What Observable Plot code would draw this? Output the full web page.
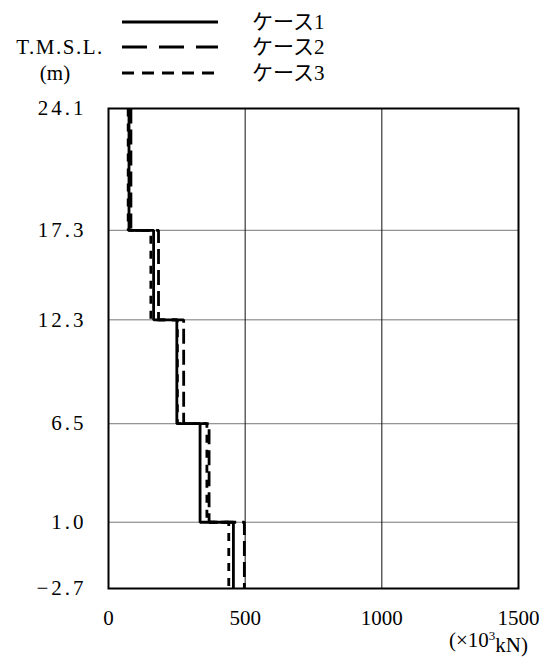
<!DOCTYPE html>
<html><head><meta charset="utf-8">
<script src="https://cdn.jsdelivr.net/npm/d3@7"></script>
<script src="https://cdn.jsdelivr.net/npm/@observablehq/plot@0.6"></script>
<style>
html,body{margin:0;padding:0;background:#fff;}
#chart{position:relative;width:547px;height:657px;}
</style>
</head><body><div id="chart"></div>
<script>
// Layer boundaries (T.M.S.L., m), top to bottom
const elevations = [24.1, 17.3, 12.3, 6.5, 1.0, -2.7];
const xTicks = [0, 500, 1000, 1500];
const caseNames = ["ケース1", "ケース2", "ケース3"];
// values per layer (×10^3 kN), layers from top to bottom
const case1 = [75, 165, 250, 335, 457];
const case2 = [82, 183, 275, 368, 497];
const case3 = [72, 155, 252, 360, 440];
const dashes = [null, "15,6", "8,7"];
const legendDashes = [null, "25,12", "12,8"];

const seriesVals = [case1, case2, case3];
function stepPoints(vals, name) {
  const pts = [];
  vals.forEach((v, i) => {
    pts.push({x: v, y: elevations[i], c: name});
    pts.push({x: v, y: elevations[i + 1], c: name});
  });
  return pts;
}

const font = "'Liberation Serif', 'Noto Sans CJK JP', serif";
const fmt = d => d.toFixed(1).replace("-", "−");

const marks = [
  Plot.ruleY(elevations.slice(1, -1), {stroke: "#777", strokeWidth: 1}),
  Plot.ruleX(xTicks.slice(1, -1), {stroke: "#111", strokeWidth: 1}),
  Plot.frame({stroke: "#000", strokeWidth: 2}),
  Plot.axisY({ticks: elevations, tickFormat: fmt, tickSize: 0, tickPadding: 22, fontSize: 21, fill: "#000"}),
  Plot.axisX({ticks: xTicks, tickFormat: d => String(d), tickSize: 0, tickPadding: 22, fontSize: 21, fill: "#000"})
];
seriesVals.forEach((vals, k) => {
  marks.push(Plot.line(stepPoints(vals, caseNames[k]), {
    x: "x", y: "y", stroke: "#000", strokeWidth: 2.8,
    strokeDasharray: dashes[k], strokeLinecap: "butt", strokeLinejoin: "miter", curve: "linear"
  }));
});

const chart = Plot.plot({
  width: 547, height: 657,
  marginTop: 108, marginBottom: 69, marginLeft: 108, marginRight: 29,
  x: {domain: [0, 1500], label: null},
  y: {domain: [-2.7, 24.1], label: null},
  style: {fontFamily: font, fontSize: "21px", background: "#fff", color: "#000"},
  marks
});
document.getElementById("chart").appendChild(chart);

// spread y tick labels like the reference's wide digits
d3.select(chart).selectAll("[aria-label='y-axis tick label'] text").attr("letter-spacing", 3);

// Legend + axis titles
const svg = d3.select(chart);
const g = svg.append("g").attr("font-family", font).attr("font-size", 21).attr("fill", "#000")
  .attr("text-anchor", "start");
const rowY = [22, 47, 73];
caseNames.forEach((n, k) => {
  g.append("line").attr("x1", 122).attr("x2", 218).attr("y1", rowY[k]).attr("y2", rowY[k])
    .attr("stroke", "#000").attr("stroke-width", 3)
    .attr("stroke-dasharray", legendDashes[k]);
  g.append("text").attr("x", 252).attr("y", rowY[k]).attr("dy", "0.35em").text(n);
});
g.append("text").attr("x", 60).attr("y", 47).attr("dy", "0.35em").attr("text-anchor", "middle")
  .attr("letter-spacing", "1.5").text("T.M.S.L.");
g.append("text").attr("x", 55).attr("y", 73).attr("dy", "0.35em").attr("text-anchor", "middle").text("(m)");
const unit = g.append("text").attr("x", 528).attr("y", 640).attr("dy", "0.35em").attr("text-anchor", "end");
unit.append("tspan").text("(×10");
unit.append("tspan").attr("font-size", 13).attr("dy", "-0.55em").text("3");
unit.append("tspan").attr("dy", "0.55em").text("kN)");
</script>
</body></html>
